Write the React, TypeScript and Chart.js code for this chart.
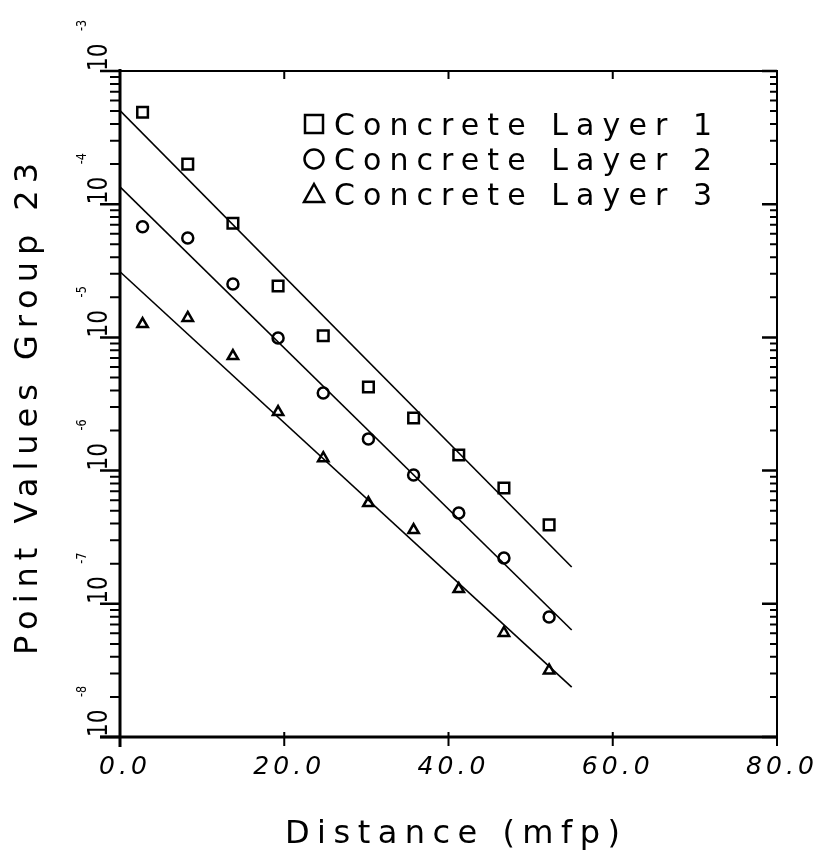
import React, { useEffect, useRef } from "react";
import { Chart, registerables } from "chart.js";

Chart.register(...registerables);

// ---- data ----
const X_POS = [2.75, 8.25, 13.75, 19.25, 24.75, 30.25, 35.75, 41.25, 46.75, 52.25];
const LAYER1 = [4.9e-4, 2.0e-4, 7.2e-5, 2.43e-5, 1.03e-5, 4.24e-6, 2.48e-6, 1.31e-6, 7.4e-7, 3.91e-7];
const LAYER2 = [6.78e-5, 5.57e-5, 2.52e-5, 9.89e-6, 3.83e-6, 1.73e-6, 9.27e-7, 4.81e-7, 2.21e-7, 7.96e-8];
const LAYER3 = [1.26e-5, 1.4e-5, 7.25e-6, 2.75e-6, 1.24e-6, 5.71e-7, 3.58e-7, 1.29e-7, 6.04e-8, 3.16e-8];
const FIT_X = [0, 55];
const FIT1 = [5.04e-4, 1.89e-7];
const FIT2 = [1.35e-4, 6.36e-8];
const FIT3 = [3.11e-5, 2.37e-8];
const LABELS = ["Concrete Layer 1", "Concrete Layer 2", "Concrete Layer 3"];
const X_TICKS = [0, 20, 40, 60, 80];
const X_TICK_LABELS = ["0.0", "20.0", "40.0", "60.0", "80.0"];
const Y_DECADES = [-8, -7, -6, -5, -4, -3];
const X_TITLE = "Distance (mfp)";
const Y_TITLE = "Point Values Group 23";

const FONT = '"DejaVu Sans", sans-serif';

function spaced(ctx: CanvasRenderingContext2D, text: string, x: number, y: number, width: number) {
  (ctx as any).letterSpacing = "0px";
  const n = Array.from(text).length;
  const w0 = ctx.measureText(text).width;
  const ls = n > 1 ? (width - w0) / (n - 1) : 0;
  (ctx as any).letterSpacing = ls + "px";
  ctx.textAlign = "left";
  ctx.fillText(text, x, y);
  (ctx as any).letterSpacing = "0px";
}

const framePlugin = {
  id: "framePlugin",
  afterDraw(chart: any) {
    const ctx: CanvasRenderingContext2D = chart.ctx;
    const xs = chart.scales.x;
    const ys = chart.scales.y;
    const { left, right, top, bottom } = chart.chartArea;
    ctx.save();
    ctx.strokeStyle = "#000";
    ctx.fillStyle = "#000";
    ctx.lineCap = "butt";

    // frame
    ctx.lineWidth = 3;
    ctx.beginPath();
    ctx.moveTo(left, top - 2);
    ctx.lineTo(left, bottom + 10);
    ctx.moveTo(left - 20, bottom);
    ctx.lineTo(right, bottom);
    ctx.stroke();
    ctx.lineWidth = 2;
    ctx.beginPath();
    ctx.moveTo(left, top);
    ctx.lineTo(right, top);
    ctx.lineTo(right, bottom + 8);
    ctx.stroke();

    // y ticks (log)
    for (let e = -8; e <= -3; e++) {
      for (let m = 1; m <= 9; m++) {
        if (e === -3 && m > 1) break;
        const v = m * Math.pow(10, e);
        const py = ys.getPixelForValue(v);
        const major = m === 1;
        ctx.lineWidth = major ? 2.5 : 2;
        ctx.beginPath();
        ctx.moveTo(left - (major ? 20 : 10), py);
        ctx.lineTo(left, py);
        ctx.moveTo(right - (major ? 15 : 7), py);
        ctx.lineTo(right, py);
        ctx.stroke();
      }
    }
    // x ticks
    ctx.lineWidth = 2;
    for (const v of X_TICKS) {
      const px = xs.getPixelForValue(v);
      ctx.beginPath();
      ctx.moveTo(px, bottom - 5);
      ctx.lineTo(px, bottom + 9);
      ctx.moveTo(px, top);
      ctx.lineTo(px, top + 8);
      ctx.stroke();
    }

    // x tick labels
    ctx.textBaseline = "alphabetic";
    X_TICKS.forEach((v, i) => {
      const px = xs.getPixelForValue(v);
      ctx.font = `italic 25px ${FONT}`;
      const t = X_TICK_LABELS[i];
      const w = t.length === 3 ? 48 : 68;
      spaced(ctx, t, px - w / 2 + 3, bottom + 37, w);
    });

    // y tick labels: rotated 10^e
    for (const e of Y_DECADES) {
      const py = ys.getPixelForValue(Math.pow(10, e));
      ctx.save();
      ctx.translate(107, py);
      ctx.rotate(-Math.PI / 2);
      ctx.scale(0.8, 1);
      ctx.font = `27px ${FONT}`;
      ctx.textAlign = "left";
      ctx.fillText("10", 0, 0);
      ctx.font = `14px ${FONT}`;
      ctx.fillText(String(e), 50, -21);
      ctx.restore();
    }

    // axis titles
    ctx.font = `32px ${FONT}`;
    spaced(ctx, X_TITLE, 285, 843, 335);
    ctx.save();
    ctx.translate(37, 655);
    ctx.rotate(-Math.PI / 2);
    ctx.font = `32px ${FONT}`;
    spaced(ctx, Y_TITLE, 0, 0, 492);
    ctx.restore();

    // legend
    const lx = 314;
    const rows = [124, 159, 194];
    ctx.lineWidth = 2.5;
    // square
    ctx.strokeRect(lx - 9, rows[0] - 9, 18, 18);
    // circle
    ctx.beginPath();
    ctx.arc(lx, rows[1], 9.5, 0, Math.PI * 2);
    ctx.stroke();
    // triangle
    ctx.beginPath();
    ctx.moveTo(lx, rows[2] - 10);
    ctx.lineTo(lx + 10, rows[2] + 8);
    ctx.lineTo(lx - 10, rows[2] + 8);
    ctx.closePath();
    ctx.stroke();
    ctx.font = `30px ${FONT}`;
    LABELS.forEach((t, i) => {
      spaced(ctx, t, 334, rows[i] + 11, 378);
    });
    ctx.restore();
  },
};

export default function App() {
  const ref = useRef<HTMLCanvasElement | null>(null);
  useEffect(() => {
    if (!ref.current) return;
    const mk = (xv: number[], yv: number[]) => xv.map((x, i) => ({ x, y: yv[i] }));
    const pointDs = (label: string, yv: number[], style: string, r: number) => ({
      label,
      data: mk(X_POS, yv),
      pointStyle: style,
      pointRadius: r,
      pointBorderWidth: 2.5,
      borderColor: "#000",
      backgroundColor: "rgba(0,0,0,0)",
      showLine: false,
    });
    const lineDs = (yv: number[]) => ({
      label: "",
      data: mk(FIT_X, yv),
      showLine: true,
      borderColor: "#000",
      borderWidth: 1.6,
      pointRadius: 0,
      fill: false,
    });
    const chart = new Chart(ref.current, {
      type: "scatter",
      data: {
        datasets: [
          pointDs(LABELS[0], LAYER1, "rect", 7.5),
          pointDs(LABELS[1], LAYER2, "circle", 5.5),
          pointDs(LABELS[2], LAYER3, "triangle", 6),
          lineDs(FIT1),
          lineDs(FIT2),
          lineDs(FIT3),
        ],
      },
      options: {
        responsive: false,
        animation: false,
        devicePixelRatio: 1,
        layout: { padding: { left: 120, top: 71, right: 47, bottom: 115 } },
        plugins: { legend: { display: false }, tooltip: { enabled: false } },
        scales: {
          x: { type: "linear", min: 0, max: 80, display: false },
          y: { type: "logarithmic", min: 1e-8, max: 1e-3, display: false },
        },
      },
      plugins: [framePlugin],
    } as any);
    return () => chart.destroy();
  }, []);
  return (
    <div style={{ position: "absolute", left: 0, top: 0, width: 824, height: 852, background: "#fff" }}>
      <canvas ref={ref} width={824} height={852} style={{ display: "block" }} />
    </div>
  );
}
